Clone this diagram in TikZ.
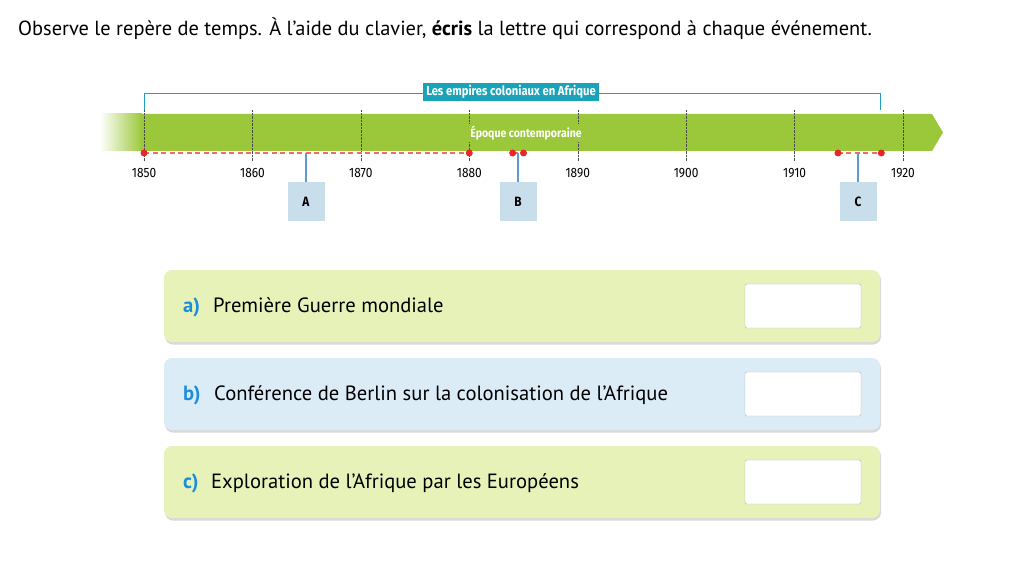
\documentclass[tikz,border=0pt]{standalone}
\usepackage{fontspec}
\setmainfont{PT Sans}
\newfontfamily\tlfont[FakeStretch=0.88]{Fira Sans}
\usetikzlibrary{shadows}
\definecolor{barvert}{HTML}{9BC83B}
\definecolor{sarcelle}{HTML}{1AA3B8}
\definecolor{rougepoint}{HTML}{E8262B}
\definecolor{rougetiret}{HTML}{F26B6B}
\definecolor{bleulien}{HTML}{5A9BD4}
\definecolor{bleuboite}{HTML}{C9DEEB}
\definecolor{cartevert}{HTML}{E7F2B9}
\definecolor{cartebleu}{HTML}{DCECF7}
\definecolor{bleulettre}{HTML}{1B8FD9}
\tikzset{
  lettre/.style={fill=bleuboite, minimum width=37pt, minimum height=39pt, anchor=north,
    font=\tlfont\bfseries\fontsize{13.5}{15}\selectfont},
  lien/.style={bleulien, line width=1.2pt},
  point/.style={fill=rougepoint},
  tiret/.style={rougetiret, line width=1.6pt, dash pattern=on 5pt off 3.5pt},
  carte/.style={rounded corners=8pt, minimum width=716pt, minimum height=72pt,
    drop shadow={shadow xshift=1pt, shadow yshift=-2.5pt, opacity=.15, fill=black}},
  reponse/.style={draw=black!30, fill=white, rounded corners=2pt, minimum width=116pt, minimum height=44pt},
  item/.style={anchor=base west, font=\fontsize{20.6}{24}\selectfont},
  puce/.style={anchor=base west, text=bleulettre, font=\bfseries\fontsize{20.6}{24}\selectfont}
}
\begin{document}
\begin{tikzpicture}[x=1pt, y=-1pt]
				\useasboundingbox (0,0) rectangle (1030,580);
				\node[anchor=base west, inner sep=0pt, font=\fontsize{20.4}{24}\selectfont] (consigne) at (18,36)
				  {Observe le repère de temps. À l’aide du clavier, \textbf{écris} la lettre qui correspond à chaque événement.};
				\shade[left color=white, right color=barvert, draw=none] (100,114) rectangle (142,151);
				\fill[barvert] (141,114) -- (932,114) -- (943,132.5) -- (932,151) -- (141,151) -- cycle;
				\foreach \an in {1850,1860,...,1920} {
					\draw[densely dotted, black!70] ({144+(\an-1850)*10.843},110) -- ++(0,51);
					\node[font=\tlfont\fontsize{13.5}{15}\selectfont] (an\an) at ({144+(\an-1850)*10.843},173) {\an};
				}
				\node[fill=barvert, inner sep=2pt, text=white, font=\tlfont\bfseries\fontsize{12}{14}\selectfont] (epoque) at (526,133) {Époque contemporaine};
				\draw[sarcelle, line width=1pt] (144,110) |- (880,94) -- (880,110);
				\node[fill=sarcelle, text=white, inner xsep=3pt, inner ysep=2.5pt, font=\tlfont\bfseries\fontsize{12.8}{14}\selectfont] (empires) at (511,92) {Les empires coloniaux en Afrique};
				\draw[tiret] (144,153) -- (469,153);
				\draw[tiret] ({144+34*10.843},153) -- ({144+35*10.843},153);
				\draw[tiret] ({144+64*10.843},153) -- ({144+68*10.843},153);
				\foreach \an in {1850,1880,1884,1885,1914,1918}
					\fill[point] ({144+(\an-1850)*10.843},153) circle (3.5);
				\coordinate (pA) at (306,153);
				\coordinate (pB) at (518,153);
				\coordinate (pC) at (858,153);
				\node[lettre] (A) at (306,182) {A};
				\node[lettre] (B) at (518,182) {B};
				\node[lettre] (C) at (858,182) {C};
				\draw[lien] (pA) -- (A);
				\draw[lien] (pB) -- (B);
				\draw[lien] (pC) -- (C);
				\node[carte, fill=cartevert] (carteA) at (522,306) {};
				\node[carte, fill=cartebleu] (carteB) at (522,394) {};
				\node[carte, fill=cartevert] (carteC) at (522,482) {};
				\node[puce, inner sep=0pt] (pa) at (183,312) {a)};
				\node[item, inner sep=0pt] (ta) at (213,312) {Première Guerre mondiale};
				\node[puce, inner sep=0pt] (pb) at (183,400) {b)};
				\node[item, inner sep=0pt] (tb) at (214,400) {Conférence de Berlin sur la colonisation de l’Afrique};
				\node[puce, inner sep=0pt] (pc) at (183,488) {c)};
				\node[item, inner sep=0pt] (tc) at (211,488) {Exploration de l’Afrique par les Européens};
				\node[reponse] (ra) at (803,306) {};
				\node[reponse] (rb) at (803,394) {};
				\node[reponse] (rc) at (803,482) {};
\end{tikzpicture}
\end{document}
